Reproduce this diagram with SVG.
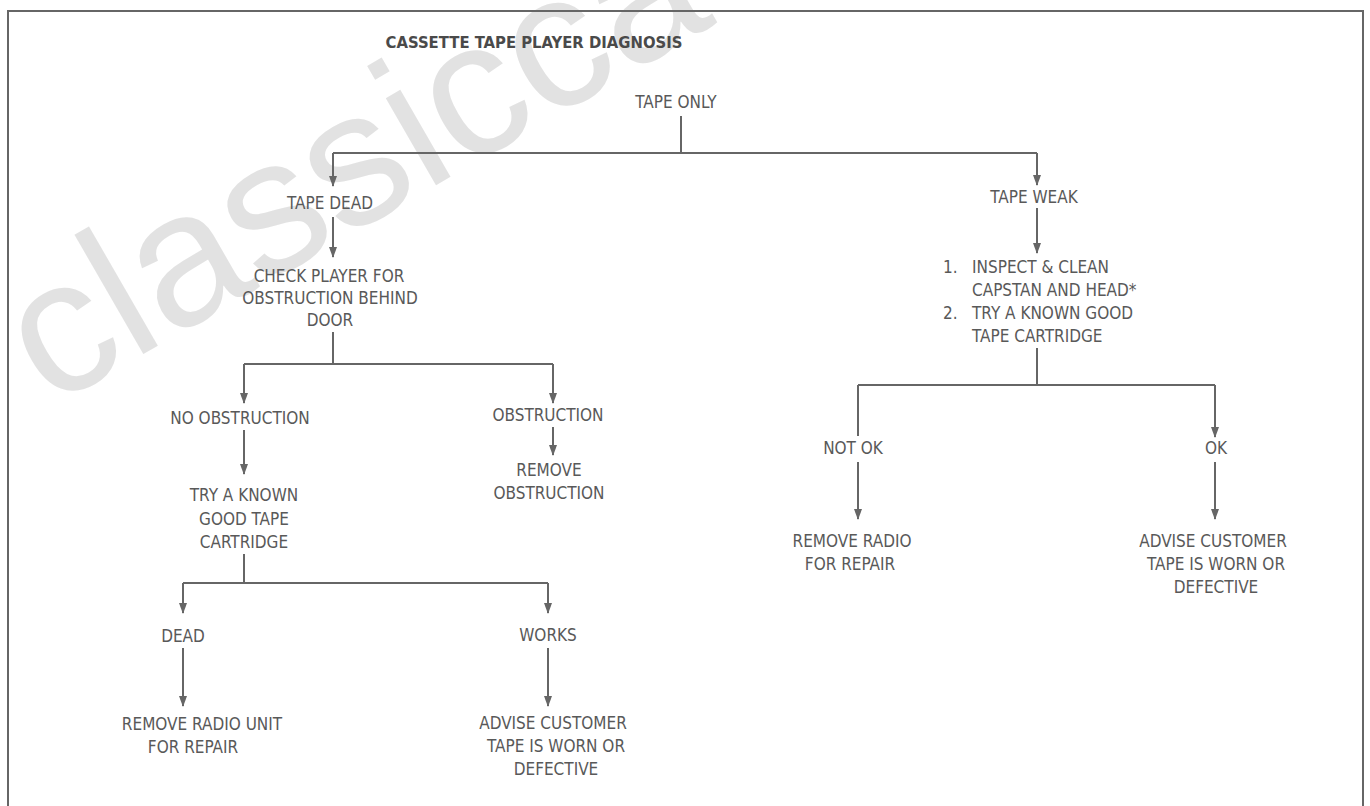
<svg xmlns="http://www.w3.org/2000/svg" width="1370" height="806" viewBox="0 0 1370 806">
<style>
.t{font-family:"DejaVu Sans Condensed","DejaVu Sans","Liberation Sans Narrow","Liberation Sans",sans-serif;font-stretch:condensed;font-size:17px;fill:#595959;text-anchor:middle}
.l{text-anchor:start}
.title{font-family:"DejaVu Sans Condensed","DejaVu Sans","Liberation Sans",sans-serif;font-stretch:condensed;font-weight:bold;font-size:16.5px;fill:#4a4a4a;text-anchor:middle}
.c{fill:none;stroke:#666;stroke-width:2}
.a{fill:none;stroke:#666;stroke-width:2;marker-end:url(#ah)}
.wm{font-family:"Liberation Sans",Arial,sans-serif;font-size:190px;fill:#dcdcdc;opacity:0.8}
</style>
<defs>
<marker id="ah" markerWidth="11" markerHeight="8" refX="10" refY="4" orient="auto" markerUnits="userSpaceOnUse" viewBox="0 0 11 8">
<path d="M0,0 L11,4 L0,8 Z" fill="#666"/>
</marker>
</defs>
<rect width="1370" height="806" fill="#fff"/>
<text class="wm" x="50" y="408" transform="rotate(-30 50 408)">classicca</text>
<g id="frame" class="c">
<path d="M8,806 L8,11 L1363,11 L1363,806"/>
</g>
<g id="title"><text class="title" x="534" y="48">CASSETTE TAPE PLAYER DIAGNOSIS</text></g>
<g id="connectors">
<path class="c" d="M681,116 L681,153"/>
<path class="c" d="M333,153 L1037,153"/>
<path class="a" d="M333,153 L333,186"/>
<path class="a" d="M1037,153 L1037,185"/>
<path class="a" d="M333,217 L333,257"/>
<path class="c" d="M333,332 L333,364"/>
<path class="c" d="M244,364 L553,364"/>
<path class="a" d="M244,364 L244,403"/>
<path class="a" d="M553,364 L553,403"/>
<path class="a" d="M244,430 L244,474"/>
<path class="a" d="M553,427 L553,455"/>
<path class="c" d="M244,554 L244,583"/>
<path class="c" d="M183,583 L548,583"/>
<path class="a" d="M183,583 L183,613"/>
<path class="a" d="M548,583 L548,613"/>
<path class="a" d="M183,648 L183,706"/>
<path class="a" d="M548,648 L548,706"/>
<path class="a" d="M1037,208 L1037,253"/>
<path class="c" d="M1037,348 L1037,385"/>
<path class="c" d="M858,385 L1215,385"/>
<path class="c" d="M858,385 L858,436"/>
<path class="a" d="M1215,385 L1215,437"/>
<path class="a" d="M858,462 L858,519"/>
<path class="a" d="M1215,462 L1215,519"/>
</g>
<g id="n_tape_only"><text class="t" x="676" y="108">TAPE ONLY</text></g>
<g id="n_tape_dead"><text class="t" x="330" y="209">TAPE DEAD</text></g>
<g id="n_check"><text class="t" x="329" y="282">CHECK PLAYER FOR</text><text class="t" x="330" y="304">OBSTRUCTION BEHIND</text><text class="t" x="330" y="326">DOOR</text></g>
<g id="n_no_obstruction"><text class="t" x="240" y="424">NO OBSTRUCTION</text></g>
<g id="n_obstruction"><text class="t" x="548" y="421">OBSTRUCTION</text></g>
<g id="n_try"><text class="t" x="244" y="501">TRY A KNOWN</text><text class="t" x="244" y="525">GOOD TAPE</text><text class="t" x="244" y="548">CARTRIDGE</text></g>
<g id="n_remove_obstruction"><text class="t" x="549" y="476">REMOVE</text><text class="t" x="549" y="499">OBSTRUCTION</text></g>
<g id="n_dead"><text class="t" x="183" y="642">DEAD</text></g>
<g id="n_works"><text class="t" x="548" y="641">WORKS</text></g>
<g id="n_remove_unit"><text class="t" x="202" y="730">REMOVE RADIO UNIT</text><text class="t" x="193" y="753">FOR REPAIR</text></g>
<g id="n_advise_left"><text class="t" x="553" y="729">ADVISE CUSTOMER</text><text class="t" x="556" y="752">TAPE IS WORN OR</text><text class="t" x="556" y="775">DEFECTIVE</text></g>
<g id="n_tape_weak"><text class="t" x="1034" y="203">TAPE WEAK</text></g>
<g id="n_inspect"><text class="t l" x="943" y="273">1.</text><text class="t l" x="972" y="273">INSPECT &amp; CLEAN</text><text class="t l" x="972" y="296">CAPSTAN AND HEAD*</text><text class="t l" x="943" y="319">2.</text><text class="t l" x="972" y="319">TRY A KNOWN GOOD</text><text class="t l" x="972" y="342">TAPE CARTRIDGE</text></g>
<g id="n_not_ok"><text class="t" x="853" y="454">NOT OK</text></g>
<g id="n_ok"><text class="t" x="1216" y="454">OK</text></g>
<g id="n_remove_radio"><text class="t" x="852" y="547">REMOVE RADIO</text><text class="t" x="850" y="570">FOR REPAIR</text></g>
<g id="n_advise_right"><text class="t" x="1213" y="547">ADVISE CUSTOMER</text><text class="t" x="1216" y="570">TAPE IS WORN OR</text><text class="t" x="1216" y="593">DEFECTIVE</text></g>
</svg>
